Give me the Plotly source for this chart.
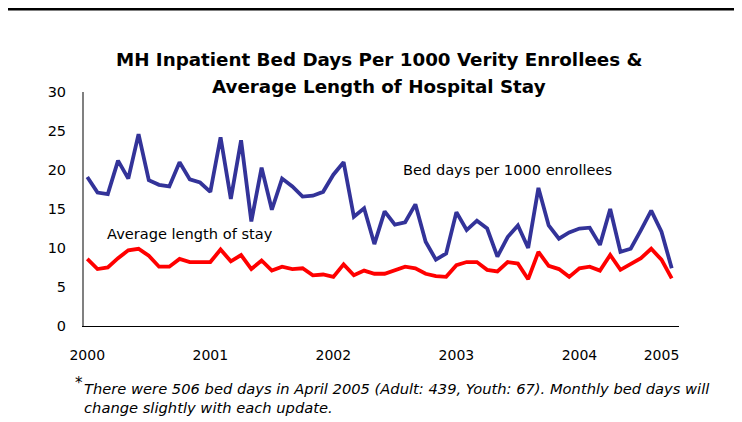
import plotly.graph_objects as go

# Monthly values, Jan 2000 onward
bed_days = [19.1, 17.1, 16.9, 21.2, 18.9, 24.6, 18.7, 18.1, 17.9, 21.0, 18.8, 18.4,
            17.2, 24.2, 16.3, 23.8, 13.4, 20.3, 14.9, 18.9, 17.9, 16.6, 16.7, 17.2,
            19.4, 21.0, 14.0, 15.1, 10.5, 14.7, 13.0, 13.3, 15.6, 10.8, 8.5, 9.3,
            14.6, 12.3, 13.5, 12.5, 8.9, 11.4, 12.9, 10.0, 17.7, 12.9, 11.2, 12.0,
            12.5, 12.6, 10.4, 15.0, 9.5, 9.9, 12.3, 14.8, 12.1, 7.4]
avg_stay = [8.6, 7.3, 7.5, 8.7, 9.7, 9.9, 9.0, 7.6, 7.6, 8.6, 8.2, 8.2,
            8.2, 9.8, 8.3, 9.1, 7.3, 8.4, 7.1, 7.6, 7.3, 7.4, 6.5, 6.6,
            6.3, 7.9, 6.5, 7.1, 6.7, 6.7, 7.1, 7.6, 7.4, 6.7, 6.4, 6.3,
            7.8, 8.2, 8.2, 7.2, 7.0, 8.2, 8.0, 6.0, 9.5, 7.7, 7.3, 6.3,
            7.4, 7.6, 7.1, 9.1, 7.2, 8.0, 8.7, 9.9, 8.5, 6.1]
months = list(range(len(bed_days)))

year_tick_pos = [0, 12, 24, 36, 48, 56]
year_labels = ["2000", "2001", "2002", "2003", "2004", "2005"]
y_ticks = [0, 5, 10, 15, 20, 25, 30]

FONT = "DejaVu Sans, Verdana, sans-serif"

fig = go.Figure()
fig.add_trace(go.Scatter(x=months, y=bed_days, mode="lines",
                         line=dict(color="#333399", width=3.8), name="Bed days"))
fig.add_trace(go.Scatter(x=months, y=avg_stay, mode="lines",
                         line=dict(color="#FF0000", width=3.8), name="ALOS"))

# page body adds an 8px offset, so the figure is sized to fit the window
fig.update_layout(
    width=734, height=414,
    margin=dict(l=76, r=63, t=84, b=96),
    paper_bgcolor="white", plot_bgcolor="white",
    showlegend=False,
    font=dict(family=FONT, color="black", size=14),
)
fig.update_xaxes(range=[-0.32, 57.71], tickvals=year_tick_pos, ticktext=year_labels,
                 showgrid=False, zeroline=False, showline=True, linecolor="black",
                 linewidth=1, ticks="", ticklabelstandoff=16,
                 tickfont=dict(size=14, family=FONT, color="black"))
fig.update_yaxes(range=[0, 30], tickvals=y_ticks, showgrid=False, zeroline=False,
                 showline=True, linecolor="#808080", linewidth=2, ticks="",
                 ticklabelstandoff=13,
                 tickfont=dict(size=14.5, family=FONT, color="black"))

# top rule
fig.add_shape(type="line", xref="paper", yref="paper",
              x0=-0.15, x1=1.12, y0=1.3547, y1=1.3547,
              line=dict(color="black", width=3))

ann = [
    dict(text="<b>MH Inpatient Bed Days Per 1000 Verity Enrollees &</b>", x=0.496, y=1.138,
         size=18.3, xanchor="center"),
    dict(text="<b>Average Length of Hospital Stay</b>", x=0.496, y=1.0256,
         size=18.3, xanchor="center"),
    dict(text="Bed days per 1000 enrollees", x=0.533, y=0.667, size=14.6, xanchor="left"),
    dict(text="Average length of stay", x=0.036, y=0.397, size=14.6, xanchor="left"),
]
for a in ann:
    fig.add_annotation(text=a["text"], x=a["x"], y=a["y"], xref="paper", yref="paper",
                       xanchor=a["xanchor"], yanchor="middle", showarrow=False,
                       font=dict(size=a["size"], family=FONT, color="black"))

fig.add_annotation(text="*", x=-0.018, y=-0.243, xref="paper", yref="paper",
                   xanchor="left", yanchor="middle", showarrow=False,
                   font=dict(size=15, family=FONT, color="black"))
fig.add_annotation(text="<i>There were 506 bed days in April 2005 (Adult: 439, Youth: 67). Monthly bed days will<br>change slightly with each update.</i>",
                   x=-0.004, y=-0.222, xref="paper", yref="paper",
                   xanchor="left", yanchor="top", align="left", showarrow=False,
                   font=dict(size=14.7, family=FONT, color="black"))

fig.write_html("out.html")
